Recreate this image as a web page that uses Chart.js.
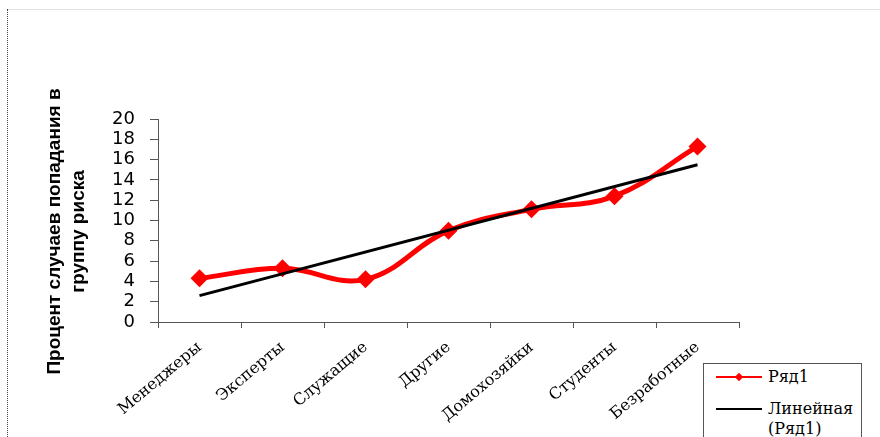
<!DOCTYPE html>
<html>
<head>
<meta charset="utf-8">
<script src="https://cdn.jsdelivr.net/npm/chart.js@4/dist/chart.umd.min.js"></script>
<style>
  body { margin: 0; background: #fff; }
  #wrap { position: relative; width: 880px; height: 437px; overflow: hidden; }
  #kanvas { position: absolute; left: 0; top: 0; }
  .ramkaTopo { position: absolute; left: 7px; top: 9px; width: 873px; height: 0; border-top: 1px solid #e2e2e2; }
  .ramkaEsq { position: absolute; left: 7px; top: 9px; width: 0; height: 428px; border-left: 1px dotted #444; }
  #legenda { position: absolute; left: 703px; top: 363px; width: 157px; height: 80px; border: 1px solid #555;
             font-family: "DejaVu Serif", serif; font-size: 16px; color: #000; background: #fff; }
  .item { position: absolute; left: 0; display: flex; align-items: flex-start; }
  .amostra { width: 46px; margin-left: 12px; margin-right: 6px; position: relative; height: 18px; }
  .amostra .linha { position: absolute; left: 0; right: 0; top: 9px; }
  .amostra .marca { position: absolute; left: 20px; top: 7px; width: 6px; height: 6px; transform: rotate(45deg); }
</style>
</head>
<body>
<div id="wrap">
  <canvas id="kanvas" width="880" height="437"></canvas>
  <div class="ramkaTopo"></div>
  <div class="ramkaEsq"></div>
  <div id="legenda"></div>
</div>
<script>
// dados
const categorias = ['Менеджеры', 'Эксперты', 'Служащие', 'Другие', 'Домохозяйки', 'Студенты', 'Безработные'];
const valoresRyad1 = [4.3, 5.3, 4.2, 9.0, 11.1, 12.4, 17.3];
// linha de tendência: só os extremos (começo e fim), o resto é null
const tendencia = [2.6, null, null, null, null, null, 15.5];
const ticksY = [0, 2, 4, 6, 8, 10, 12, 14, 16, 18, 20];
const nomeSerie = 'Ряд1';
const nomeTendencia = 'Линейная (Ряд1)';
const tituloY = ['Процент случаев попадания в', 'группу риска'];

// desenha o título do eixo Y (duas linhas, girado)
const pluginTituloY = {
    id: 'tituloY',
    afterDraw: function (chart) {
        const c = chart.ctx;
        const meio = (chart.chartArea.top + chart.chartArea.bottom) / 2 + 11; // um pouco abaixo do centro
        c.save();
        c.font = 'bold 19px "Liberation Sans"';
        c.fillStyle = '#000';
        c.textAlign = 'center';
        c.textBaseline = 'middle';
        const xs = [55, 79];
        tituloY.forEach(function (linha, i) {
            c.save();
            c.translate(xs[i], meio);
            c.rotate(-Math.PI / 2);
            c.fillText(linha, 0, 0);
            c.restore();
        });
        c.restore();
    }
};

function gerarGrafico() {
    const ctx = document.getElementById('kanvas').getContext('2d');
    const grafico = new Chart(ctx, {
        type: 'line',
        data: {
            labels: categorias,
            datasets: [{
                label: nomeSerie,
                data: valoresRyad1,
                borderColor: '#ff0000',
                backgroundColor: '#ff0000',
                borderWidth: 5,
                tension: 0.4,
                pointStyle: 'rectRot',
                pointRadius: 9,
                pointBorderWidth: 0,
                order: 2
            }, {
                label: nomeTendencia,
                data: tendencia,
                borderColor: '#000000',
                borderWidth: 3,
                pointRadius: 0,
                spanGaps: true,
                tension: 0,
                order: 1
            }]
        },
        options: {
            responsive: false,
            animation: false,
            layout: { padding: { top: 119, right: 141, left: 0, bottom: 0 } },
            plugins: { legend: { display: false }, tooltip: { enabled: false } },
            scales: {
                x: {
                    offset: true,
                    grid: { display: true, offset: true, drawOnChartArea: false, drawTicks: true, tickLength: 6, color: '#555' },
                    border: { color: '#555', width: 1 },
                    ticks: {
                        minRotation: 40, maxRotation: 40, color: '#000', padding: 10,
                        font: { family: 'DejaVu Serif', size: 16 }
                    },
                    afterFit: function (escala) { escala.height = 115; }
                },
                y: {
                    min: 0, max: 20,
                    afterBuildTicks: function (escala) { escala.ticks = ticksY.map(v => ({ value: v })); },
                    grid: { display: true, drawOnChartArea: false, drawTicks: true, tickLength: 8, color: '#555' },
                    border: { color: '#555', width: 1 },
                    ticks: { color: '#000', padding: 15, autoSkip: false, font: { family: 'DejaVu Sans', size: 18 } },
                    afterFit: function (escala) { escala.width = 158; }
                }
            }
        },
        plugins: [pluginTituloY]
    });

    // legenda em HTML (o texto da tendência quebra em duas linhas como no original)
    const legenda = document.getElementById('legenda');
    const itens = grafico.data.datasets;
    const topos = [3, 35];
    itens.forEach(function (ds, i) {
        const el = document.createElement('div');
        el.className = 'item';
        el.style.top = topos[i] + 'px';
        let amostra = '<div class="amostra"><div class="linha" style="border-top:2px solid ' + ds.borderColor + '"></div>';
        if (ds.pointRadius > 0) amostra += '<div class="marca" style="background:' + ds.borderColor + '"></div>';
        amostra += '</div>';
        const texto = ds.label.replace(' (', '<br>(');
        el.innerHTML = amostra + '<div style="line-height:20px">' + texto + '</div>';
        legenda.appendChild(el);
    });
}

gerarGrafico();
</script>
</body>
</html>
